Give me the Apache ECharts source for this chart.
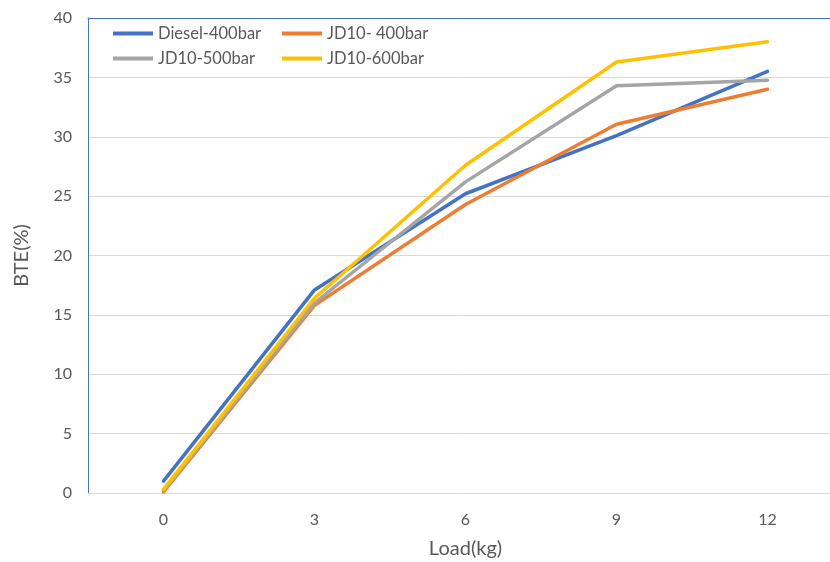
<!DOCTYPE html>
<html><head><meta charset="utf-8">
<script src="https://cdn.jsdelivr.net/npm/echarts@6/dist/echarts.min.js"></script>
<style>html,body{margin:0;padding:0;background:#fff}#c{width:830px;height:562px}</style>
</head><body><div id="c"></div>
<script>
const categories = ['0', '3', '6', '9', '12'];
const yTicks = [0, 5, 10, 15, 20, 25, 30, 35, 40];
const diesel400 = [1.0, 17.1, 25.2, 30.1, 35.5];
const jd10_400 = [0.1, 15.8, 24.3, 31.05, 34.0];
const jd10_500 = [0.2, 16.0, 26.2, 34.3, 34.75];
const jd10_600 = [0.3, 16.4, 27.6, 36.3, 38.0];
const seriesNames = ['Diesel-400bar', 'JD10- 400bar', 'JD10-500bar', 'JD10-600bar'];
const seriesColors = ['#4472C4', '#ED7D31', '#A5A5A5', '#FFC000'];
const seriesData = [diesel400, jd10_400, jd10_500, jd10_600];

const font = 'Lato, "Open Sans", sans-serif';
const chart = echarts.init(document.getElementById('c'));
const legendCommon = {
  orient: 'vertical', itemWidth: 40, itemHeight: 4, icon: 'rect', itemGap: 8, padding: 0,
  textStyle: { color: '#595959', fontSize: 16.5, fontFamily: font }
};
chart.setOption({
  animation: false,
  backgroundColor: '#fff',
  grid: { left: 88, right: -13, top: 18, bottom: 69, containLabel: false, outerBoundsMode: 'none' },
  legend: [
    Object.assign({ left: 113, top: 25, data: [seriesNames[0], seriesNames[2]] }, legendCommon),
    Object.assign({ left: 282, top: 25, data: [seriesNames[1], seriesNames[3]] }, legendCommon)
  ],
  xAxis: [{
    type: 'category', data: categories, boundaryGap: true,
    name: 'Load(kg)', nameLocation: 'middle', nameGap: 46,
    nameTextStyle: { color: '#595959', fontSize: 20, fontFamily: font },
    axisLine: { show: true, lineStyle: { color: '#d9d9d9', width: 1 } },
    axisTick: { show: false },
    axisLabel: { color: '#595959', fontSize: 16, fontFamily: font, margin: 19 }
  }, {
    type: 'category', data: categories, position: 'top', z: 5,
    axisLine: { show: true, onZero: false, lineStyle: { color: '#4472C4', width: 1 } },
    axisTick: { show: false }, axisLabel: { show: false }, splitLine: { show: false }
  }],
  yAxis: {
    type: 'value', min: yTicks[0], max: yTicks[yTicks.length - 1], interval: 5,
    name: 'BTE(%)', nameLocation: 'middle', nameGap: 56,
    nameTextStyle: { color: '#595959', fontSize: 20, fontFamily: font },
    axisLine: { show: true, lineStyle: { color: '#4472C4', width: 1 } },
    axisTick: { show: false },
    axisLabel: { color: '#595959', fontSize: 16, fontFamily: font, margin: 16 },
    splitLine: { show: true, lineStyle: { color: '#d9d9d9', width: 1 } }
  },
  series: seriesNames.map((n, i) => ({
    name: n, type: 'line', data: seriesData[i], xAxisIndex: 0,
    symbol: 'none', color: seriesColors[i],
    lineStyle: { width: 3.5, color: seriesColors[i], cap: 'round', join: 'round' }
  }))
});
</script></body></html>
